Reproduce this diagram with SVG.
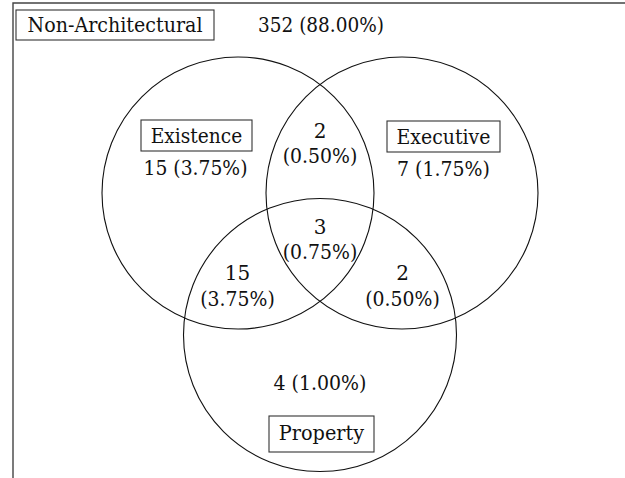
<svg xmlns="http://www.w3.org/2000/svg" width="625" height="478" viewBox="0 0 625 478">
<style>
text{font-family:"DejaVu Serif",serif;font-size:20px;fill:#111;text-anchor:middle}
.c{fill:none;stroke:#111;stroke-width:1.1}
.b{fill:#fff;stroke:#333;stroke-width:1.1}
.f{fill:none;stroke:#444;stroke-width:1.4}
</style>
<rect width="625" height="478" fill="#fff"/>
<path class="f" d="M13,478 V3 H625"/>
<g id="universe">
<rect class="b" x="16" y="10" width="198" height="30"/>
<text x="115" y="32" textLength="175" lengthAdjust="spacingAndGlyphs">Non-Architectural</text>
<text x="321" y="32" textLength="126" lengthAdjust="spacingAndGlyphs">352 (88.00%)</text>
</g>
<g id="circles">
<circle id="existence-circle" class="c" cx="238" cy="193" r="136"/>
<circle id="executive-circle" class="c" cx="402" cy="193" r="136"/>
<circle id="property-circle" class="c" cx="320" cy="335" r="136.5"/>
</g>
<g id="existence">
<rect class="b" x="141" y="120" width="111" height="31"/>
<text x="196.5" y="143" textLength="91.5" lengthAdjust="spacingAndGlyphs">Existence</text>
<text x="195.5" y="175" textLength="104" lengthAdjust="spacingAndGlyphs">15 (3.75%)</text>
</g>
<g id="executive">
<rect class="b" x="387" y="121" width="113" height="31"/>
<text x="443.5" y="144" textLength="94" lengthAdjust="spacingAndGlyphs">Executive</text>
<text x="443.5" y="176" textLength="93" lengthAdjust="spacingAndGlyphs">7 (1.75%)</text>
</g>
<g id="property">
<rect class="b" x="269" y="416" width="105" height="36"/>
<text x="321.5" y="440" textLength="85.4" lengthAdjust="spacingAndGlyphs">Property</text>
<text x="320" y="390" textLength="93" lengthAdjust="spacingAndGlyphs">4 (1.00%)</text>
</g>
<g id="existence-executive">
<text x="320" y="138">2</text>
<text x="320" y="163" textLength="74.6" lengthAdjust="spacingAndGlyphs">(0.50%)</text>
</g>
<g id="all-three">
<text x="320" y="234">3</text>
<text x="320" y="259" textLength="74.6" lengthAdjust="spacingAndGlyphs">(0.75%)</text>
</g>
<g id="existence-property">
<text x="237.5" y="280">15</text>
<text x="237.5" y="306" textLength="74.6" lengthAdjust="spacingAndGlyphs">(3.75%)</text>
</g>
<g id="executive-property">
<text x="402.5" y="280">2</text>
<text x="402.5" y="306" textLength="74.6" lengthAdjust="spacingAndGlyphs">(0.50%)</text>
</g>
</svg>
